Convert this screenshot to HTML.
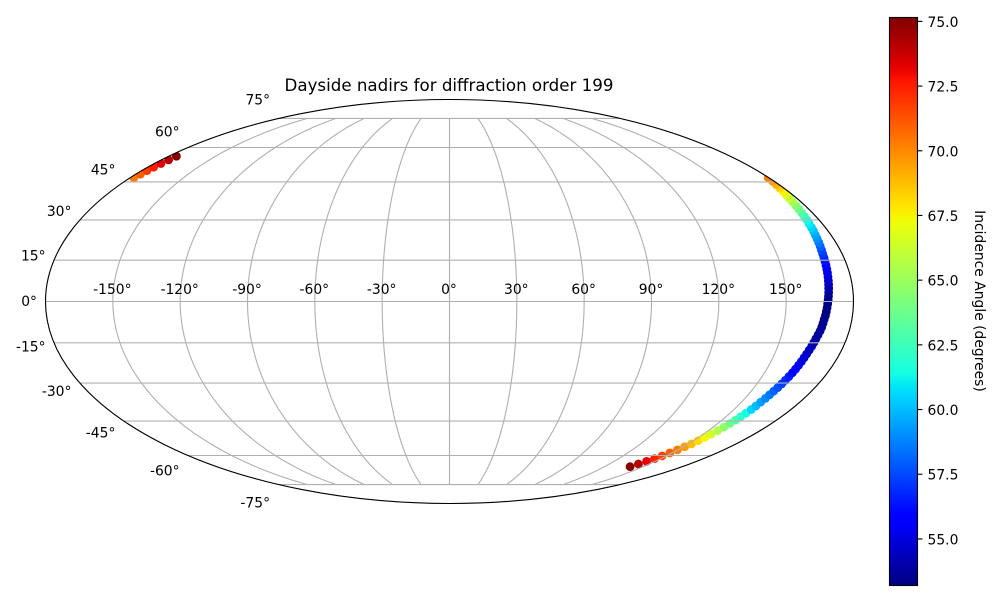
<!DOCTYPE html>
<html>
<head>
<meta charset="utf-8">
<title>Dayside nadirs for diffraction order 199</title>
<style>
html,body{margin:0;padding:0;background:#fff;}
svg{display:block;}
text{font-family:"DejaVu Sans","Liberation Sans",sans-serif;fill:#000;}
</style>
</head>
<body>
<svg id="fig" xmlns="http://www.w3.org/2000/svg" width="1000" height="600" viewBox="0 0 1000 600">
  <defs>
    <linearGradient id="jet" x1="0" y1="1" x2="0" y2="0"></linearGradient>
    <clipPath id="globe-clip"><ellipse cx="449.5" cy="301.5" rx="404" ry="202"></ellipse></clipPath>
  </defs>
  <rect x="0" y="0" width="1000" height="600" fill="#fff"></rect>
  <ellipse cx="449.5" cy="301.5" rx="404" ry="202" fill="#fff"></ellipse>
  <g id="points" clip-path="url(#globe-clip)"></g>
  <g id="grid" clip-path="url(#globe-clip)"></g>
  <ellipse cx="449.5" cy="301.5" rx="404" ry="202" fill="none" stroke="#000" stroke-width="1.11"></ellipse>
  <g id="lon-labels"></g>
  <g id="lat-labels"></g>
  <text x="449" y="91" text-anchor="middle" font-size="16.67">Dayside nadirs for diffraction order 199</text>
  <rect x="889.5" y="17.5" width="28" height="568" fill="url(#jet)"></rect>
  <rect x="889.5" y="17.5" width="28" height="568" fill="none" stroke="#000" stroke-width="1.11"></rect>
  <g id="cbar-ticks"></g>
  <text transform="translate(975,301) rotate(90)" text-anchor="middle" font-size="13.89">Incidence Angle (degrees)</text>
</svg>
<script>
var latitudes = [-65.4,-64.1,-62.8,-61.5,-60.2,-58.8,-57.4,-56.0,-54.7,-53.3,-51.9,-50.5,-49.0,-47.5,-46.0,-44.6,-43.2,-41.8,-40.3,-38.9,-37.4,-35.9,-34.5,-33.1,-31.7,-30.3,-28.9,-27.5,-26.1,-24.7,-23.3,-21.9,-20.5,-19.1,-17.7,-16.3,-14.9,-13.5,-12.1,-10.7,-9.3,-7.9,-6.5,-5.1,-3.7,-2.3,-0.9,0.5,1.9,3.3,4.7,6.1,7.5,8.9,10.3,11.7,13.1,14.5,15.9,17.3,18.7,20.1,21.5,22.9,24.3,25.7,27.1,28.5,29.9,31.3,32.7,34.1,35.5,36.9,38.3,39.7,41.1,42.5,43.9,45.3,46.7,46.7,48.2,49.7,51.2,52.8,54.4,56.0];
var longitudes = [139.8,141.8,143.7,145.4,146.9,148.3,149.6,150.8,151.9,152.8,153.6,154.4,155.3,156.1,156.8,157.4,157.9,158.5,159.1,159.5,159.9,160.4,160.8,161.2,161.7,162.1,162.5,162.9,163.3,163.6,163.9,164.2,164.5,164.8,165.1,165.5,165.8,166.1,166.5,166.9,167.2,167.4,167.6,167.9,168.1,168.3,168.5,168.7,168.9,169.1,169.3,169.5,169.7,169.9,170.1,170.3,170.5,170.7,170.9,171.1,171.4,171.7,172.0,172.3,172.6,173.0,173.3,173.6,174.0,174.3,174.6,175.0,175.4,175.7,176.1,176.5,177.3,177.9,178.5,179.2,179.6,-177.9,-177.4,-176.9,-176.5,-176.1,-175.6,-175.1];
var incidence = [75.0,74.1,73.2,72.4,71.6,70.9,70.2,69.5,68.8,68.1,67.4,66.5,65.6,64.7,63.8,63.0,62.2,61.4,60.6,60.0,59.4,58.9,58.5,58.1,57.7,57.3,56.9,56.5,56.1,55.8,55.5,55.2,54.9,54.7,54.5,54.3,54.1,53.9,53.8,53.7,53.6,53.5,53.4,53.35,53.3,53.3,53.3,53.4,53.5,53.7,53.9,54.2,54.5,54.8,55.1,55.5,55.9,56.3,56.7,57.1,57.5,58.0,58.5,59.0,59.5,60.0,60.5,61.0,61.6,62.3,63.0,63.7,64.5,65.3,66.1,66.8,67.5,68.2,69.0,69.6,70.1,70.3,71.0,71.8,72.5,73.2,74.1,75.0];
var lonTicks = [-150,-120,-90,-60,-30,0,30,60,90,120,150];
var latTicks = [-75,-60,-45,-30,-15,0,15,30,45,60,75];
var cbarTicks = ["55.0","57.5","60.0","62.5","65.0","67.5","70.0","72.5","75.0"];
var cbarMin = 53.2;
var cbarMax = 75.15;

var NS = "http://www.w3.org/2000/svg";
var CX = 449.5, CY = 301.5, RX = 404, RY = 202;

function make(tag, attrs, parent) {
  var el = document.createElementNS(NS, tag);
  for (var k in attrs) { el.setAttribute(k, attrs[k]); }
  parent.appendChild(el);
  return el;
}
function auxTheta(latDeg) {
  var phi = latDeg * Math.PI / 180;
  if (Math.abs(Math.abs(latDeg) - 90) < 1e-6) { return phi; }
  var t = phi;
  for (var i = 0; i < 60; i++) {
    var d = (2 * t + Math.sin(2 * t) - Math.PI * Math.sin(phi)) / (2 + 2 * Math.cos(2 * t));
    t -= d;
    if (Math.abs(d) < 1e-9) { break; }
  }
  return t;
}
function xScale(lonDeg, latDeg) { return CX + RX * (lonDeg / 180) * Math.cos(auxTheta(latDeg)); }
function yScale(latDeg) { return CY - RY * Math.sin(auxTheta(latDeg)); }

function interp(x, xs, ys) {
  for (var i = 1; i < xs.length; i++) {
    if (x <= xs[i]) { return ys[i - 1] + (ys[i] - ys[i - 1]) * (x - xs[i - 1]) / (xs[i] - xs[i - 1]); }
  }
  return ys[ys.length - 1];
}
function jet(t) {
  var r = interp(t, [0, 0.35, 0.66, 0.89, 1], [0, 0, 1, 1, 0.5]);
  var g = interp(t, [0, 0.125, 0.375, 0.64, 0.91, 1], [0, 0, 1, 1, 0, 0]);
  var b = interp(t, [0, 0.11, 0.34, 0.65, 1], [0.5, 1, 1, 0, 0]);
  return "rgb(" + Math.round(r * 255) + "," + Math.round(g * 255) + "," + Math.round(b * 255) + ")";
}
function colorFor(v) { return jet((v - cbarMin) / (cbarMax - cbarMin)); }
function cbarY(v) { return 585.5 - (v - cbarMin) / (cbarMax - cbarMin) * 568; }

var grad = document.getElementById("jet");
for (var s = 0; s <= 128; s++) {
  make("stop", {offset: (s / 128), "stop-color": jet(s / 128)}, grad);
}

var pointsG = document.getElementById("points");
for (var i = 0; i < latitudes.length; i++) {
  var dot = make("circle", {cx: xScale(longitudes[i], latitudes[i]), cy: yScale(latitudes[i]), r: 4.4, fill: colorFor(incidence[i])}, pointsG);
  
  
}

var gridG = document.getElementById("grid");
latTicks.forEach(function (lat) {
  var y = yScale(lat);
  var ln = make("line", {x1: xScale(-180, lat), x2: xScale(180, lat), y1: y, y2: y, stroke: "#b0b0b0", "stroke-width": 1.11}, gridG);
  
  
});
lonTicks.forEach(function (lon) {
  var pts = [];
  for (var la = -75; la <= 75; la += 2.5) { pts.push(xScale(lon, la).toFixed(2) + "," + yScale(la).toFixed(2)); }
  var pl = make("polyline", {points: pts.join(" "), fill: "none", stroke: "#b0b0b0", "stroke-width": 1.11}, gridG);
  
  
});

var lonG = document.getElementById("lon-labels");
lonTicks.forEach(function (lon) {
  var t = make("text", {x: xScale(lon, 0) - 0.5, y: 294, "text-anchor": "middle", "font-size": 13.89}, lonG);
  t.textContent = lon + "°";
  
  
});

var latG = document.getElementById("lat-labels");
latTicks.forEach(function (lat) {
  var yy = CY + (yScale(lat) - CY) * 1.1;
  var t = make("text", {x: xScale(-180, lat) - 8.5, y: yy + 4.5, "text-anchor": "end", "font-size": 13.89}, latG);
  t.textContent = lat + "°";
  
  
});

var cbG = document.getElementById("cbar-ticks");
cbarTicks.forEach(function (label) {
  var y = cbarY(parseFloat(label));
  var tk = make("line", {x1: 917.5, x2: 922.4, y1: y, y2: y, stroke: "#000", "stroke-width": 1.11}, cbG);
  
  
  var t = make("text", {x: 927.5, y: y + 5.5, "font-size": 13.89}, cbG);
  t.textContent = label;
  
  
});
</script>
</body>
</html>
